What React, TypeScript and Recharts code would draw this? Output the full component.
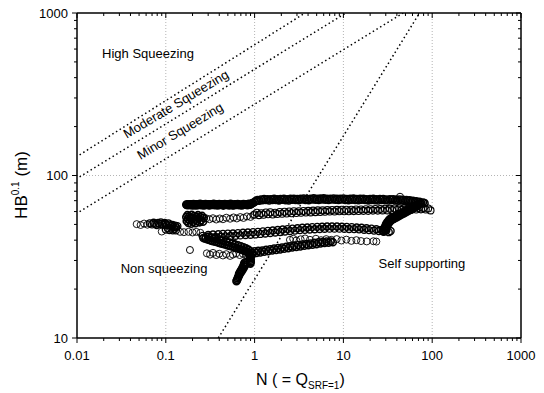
import React from 'react';
import { ScatterChart, Scatter, XAxis, YAxis, ReferenceLine, ReferenceDot } from 'recharts';

type Pt = [number, number];

const FONT = '"Liberation Sans", Arial, Helvetica, sans-serif';

const X_TICKS = [0.01, 0.02, 0.03, 0.04, 0.05, 0.06, 0.07, 0.08, 0.09, 0.1, 0.2, 0.3, 0.4, 0.5, 0.6, 0.7, 0.8, 0.9, 1, 2, 3, 4, 5, 6, 7, 8, 9, 10, 20, 30, 40, 50, 60, 70, 80, 90, 100, 200, 300, 400, 500, 600, 700, 800, 900, 1000];
const Y_TICKS = [10, 20, 30, 40, 50, 60, 70, 80, 90, 100, 200, 300, 400, 500, 600, 700, 800, 900, 1000];
const X_MAJOR = [0.01, 0.1, 1, 10, 100, 1000];
const Y_MAJOR = [10, 100, 1000];
const X_GRID = [0.1, 1, 10, 100];
const Y_GRID = [100];

// criteria lines (endpoints)
const CRITERIA_LINES: { name: string; from: Pt; to: Pt }[] = [
  { name: 'high', from: [0.0107, 134], to: [3.7, 1000] },
  { name: 'moderate', from: [0.0107, 98], to: [10.7, 1000] },
  { name: 'minor', from: [0.0107, 60], to: [47, 1000] },
  { name: 'self', from: [0.39, 10], to: [72, 1000] },
];

const ANNOTATIONS: { text: string; n: number; hb: number; angle: number }[] = [
  { text: 'High Squeezing', n: 0.063, hb: 567, angle: 0 },
  { text: 'Moderate Squeezing', n: 0.13, hb: 275, angle: -31 },
  { text: 'Minor Squeezing', n: 0.145, hb: 188, angle: -31 },
  { text: 'Non squeezing', n: 0.0955, hb: 26.6, angle: 0 },
  { text: 'Self supporting', n: 76.7, hb: 28.9, angle: 0 },
];

const BAND_A_LEFT: Pt[] = [
  [0.17, 66.2], [0.175, 65.6], [0.18, 66.6], [0.186, 65.8], [0.192, 66.4], [0.198, 65.5], [0.205, 66.8], [0.212, 66], [0.22, 65.4], [0.227, 66.5],
  [0.235, 65.8], [0.243, 66.9], [0.252, 65.6], [0.26, 66.3], [0.27, 65.5], [0.28, 66.7], [0.29, 65.9], [0.3, 66.4], [0.31, 65.4], [0.322, 66.6],
  [0.334, 65.8], [0.346, 66.9], [0.358, 65.6], [0.371, 66.2], [0.385, 65.5], [0.4, 66.8], [0.414, 65.9], [0.43, 66.5], [0.445, 65.3], [0.462, 66.7],
  [0.48, 65.8], [0.5, 66.4], [0.517, 65.5], [0.536, 66.9], [0.556, 66], [0.577, 65.4], [0.6, 66.6], [0.62, 65.8], [0.645, 66.8], [0.67, 65.6],
  [0.695, 66.3], [0.72, 65.5], [0.75, 66.7], [0.775, 66], [0.8, 66.5], [0.83, 65.6], [0.86, 66.9], [0.89, 66.1], [0.925, 67.2], [0.96, 67.8],
];

const BAND_A_LEFT_2: Pt[] = [
  [0.1725, 66], [0.1775, 66.4], [0.183, 65.9], [0.189, 66.3], [0.195, 66], [0.2015, 66.2], [0.2085, 65.7], [0.216, 66.4], [0.2235, 66], [0.231, 65.9],
  [0.239, 66.4], [0.2475, 66.1], [0.256, 66.5], [0.265, 65.9], [0.275, 66.2], [0.285, 66], [0.295, 66.6], [0.305, 65.8], [0.316, 66.1], [0.328, 66.3],
  [0.34, 66.2], [0.352, 66], [0.365, 66.4], [0.378, 66], [0.392, 66.1], [0.407, 66.3], [0.422, 66.2], [0.437, 65.8], [0.453, 66.2], [0.471, 66.2],
  [0.49, 66], [0.508, 66], [0.526, 66.2], [0.546, 66.4], [0.566, 65.7], [0.588, 66], [0.61, 66.2], [0.632, 66.3], [0.657, 66.2], [0.682, 66],
  [0.707, 65.9], [0.735, 66.1], [0.762, 66.3], [0.787, 66.2], [0.815, 66], [0.845, 66.3], [0.875, 66.5], [0.907, 66.6], [0.942, 67.5],
];

const BAND_A_RIGHT: Pt[] = [
  [1.0, 68.8], [1.04, 69.8], [1.08, 70.6], [1.13, 69.9], [1.18, 71.2], [1.23, 70.4], [1.28, 71.6], [1.34, 70.6], [1.4, 71.4], [1.46, 70.2],
  [1.52, 71.5], [1.59, 70.8], [1.66, 71.9], [1.73, 70.6], [1.8, 71.4], [1.88, 70.3], [1.96, 71.7], [2.05, 70.9], [2.14, 71.9], [2.23, 70.5],
  [2.33, 71.3], [2.43, 70.2], [2.54, 71.8], [2.65, 71], [2.77, 72], [2.89, 70.7], [3.02, 71.6], [3.15, 70.4], [3.29, 71.9], [3.43, 71.1],
  [3.58, 72.2], [3.74, 70.8], [3.9, 71.7], [4.07, 70.5], [4.25, 72], [4.44, 71.2], [4.63, 72.3], [4.84, 70.9], [5.05, 71.8], [5.27, 70.6],
  [5.5, 72.1], [5.74, 71.3], [6.0, 72.3], [6.26, 71], [6.53, 71.9], [6.82, 70.7], [7.12, 72], [7.43, 71.2], [7.76, 72.2], [8.1, 70.9],
  [8.45, 71.8], [8.82, 70.6], [9.21, 72], [9.62, 71.1], [10.04, 72.2], [10.48, 70.8], [10.94, 71.7], [11.42, 70.5], [11.92, 71.9], [12.45, 71],
  [13.0, 72.1], [13.57, 70.7], [14.16, 71.6], [14.78, 70.4], [15.43, 71.8], [16.1, 70.9], [16.8, 71.9], [17.55, 70.6], [18.3, 71.4], [19.1, 70.3],
  [19.95, 71.7], [20.8, 70.8], [21.7, 71.8], [22.7, 70.5], [23.7, 71.3], [24.7, 70.2], [25.8, 71.6], [26.9, 70.7], [28.1, 71.7], [29.3, 70.4],
  [30.6, 71.2], [32, 70.1], [33.4, 71.5], [34.8, 70.6], [36.3, 71.4], [37.9, 70.2], [39.6, 71], [41.3, 69.9], [43.1, 71.1], [45, 70.2],
  [47, 70.9], [49, 69.8], [51.2, 70.6], [53.4, 69.6], [55.7, 70.3], [58.2, 69.2], [60.7, 69.9], [63.4, 68.8], [66.2, 69.4], [69, 68.4],
  [72, 68.9], [75.2, 67.8], [78.5, 68.2], [82, 67.6],
];

const LONE_POINTS: Pt[] = [[43.4, 74], [0.187, 34.8]];

const BAND_B_BLOB: Pt[] = [
  [0.17, 55.5], [0.172, 52.5], [0.175, 57], [0.178, 54], [0.18, 51], [0.183, 56], [0.186, 53], [0.19, 55], [0.193, 50.5], [0.196, 57.2],
  [0.2, 54.2], [0.204, 51.8], [0.208, 56.2], [0.212, 53.4], [0.216, 50.8], [0.22, 55.8], [0.225, 52.6], [0.23, 57], [0.235, 54.6], [0.24, 51.5],
  [0.245, 55.6], [0.25, 53], [0.256, 56.4], [0.262, 52], [0.268, 54.8],
];

const BAND_B_SPARSE: Pt[] = [
  [0.285, 54.5], [0.31, 53.8], [0.34, 54.6], [0.37, 53.6], [0.405, 54.4], [0.44, 53.8], [0.48, 55], [0.53, 54.2], [0.58, 55.2], [0.63, 54.4],
  [0.69, 55.5], [0.75, 54.8], [0.82, 56], [0.9, 55.6], [0.97, 57],
];

const BAND_B_RIGHT: Pt[] = [
  [1.0, 57.5], [1.06, 59], [1.12, 57], [1.19, 58.6], [1.26, 57.4], [1.34, 59.2], [1.42, 57.8], [1.5, 59.4], [1.6, 57.6], [1.7, 59],
  [1.8, 58], [1.92, 59.6], [2.04, 58.2], [2.17, 59.8], [2.3, 58.4], [2.45, 60], [2.6, 58.6], [2.77, 60.2], [2.95, 58.8], [3.14, 60.3],
  [3.34, 59], [3.55, 60.5], [3.78, 59.2], [4.02, 60.6], [4.28, 59.3], [4.55, 60.8], [4.84, 59.5], [5.15, 61], [5.48, 59.6], [5.83, 61],
  [6.2, 59.8], [6.6, 61.2], [7.02, 60], [7.47, 61.3], [7.95, 60], [8.46, 61.4], [9, 60.2], [9.57, 61.5], [10.2, 60.2], [10.8, 61.6],
  [11.5, 60.3], [12.3, 61.6], [13.1, 60.4], [13.9, 61.8], [14.8, 60.5], [15.8, 61.8], [16.8, 60.6], [17.9, 62], [19, 60.6], [20.2, 62],
  [21.5, 60.8], [22.9, 62.2], [24.4, 60.8], [26, 62.2], [27.6, 61], [29.4, 62.4], [31.3, 61], [33.3, 62.5], [35.4, 61.2], [37.7, 62.6],
  [40.1, 61.3], [42.7, 62.7], [45.4, 61.4], [48.3, 62.8], [51.4, 61.5], [54.7, 63], [58.2, 61.6], [62, 63], [66, 61.8], [70.2, 63],
  [74.7, 61.9], [79.5, 63], [84.6, 61.8], [90, 62.6], [95.7, 61],
];

const BAND_C_DENSE: Pt[] = [
  [0.066, 50.8], [0.07, 50], [0.073, 51.2], [0.076, 50.4], [0.079, 49.6], [0.082, 51],
  [0.085, 50.2], [0.088, 51.4], [0.091, 50.5], [0.094, 49.8], [0.097, 51], [0.1, 50.3], [0.103, 49.5], [0.107, 50.8], [0.111, 49.8], [0.115, 48.8],
  [0.119, 49.6], [0.123, 48.2], [0.127, 49.2], [0.131, 48], [0.135, 48.8],
  [0.1, 46.5], [0.105, 47.5], [0.11, 46.2], [0.115, 47.2], [0.12, 46], [0.125, 47], [0.13, 46],
];

const BAND_C_SPARSE: Pt[] = [
  [0.047, 50.2], [0.052, 49.6], [0.057, 50.6], [0.062, 49.8],
  [0.09, 45.2], [0.145, 45], [0.16, 44.8], [0.18, 45], [0.2, 44.6], [0.22, 45], [0.245, 44.4],
];

const BAND_D: Pt[] = [
  [0.26, 42.5], [0.28, 41.2], [0.3, 43], [0.32, 41.6], [0.34, 43.3], [0.365, 41.8], [0.39, 43.5], [0.415, 42], [0.44, 43.7], [0.47, 42.2],
  [0.5, 43.9], [0.535, 42.4], [0.57, 44], [0.61, 42.6], [0.65, 44.2], [0.69, 42.8], [0.74, 44.4], [0.79, 43], [0.84, 44.6], [0.9, 43.2],
  [0.96, 44.8], [1.02, 43.4], [1.09, 45], [1.16, 43.7], [1.24, 45.3], [1.32, 44], [1.41, 45.6], [1.5, 44.3], [1.6, 45.9], [1.71, 44.6],
  [1.82, 46.2], [1.94, 44.9], [2.07, 46.5], [2.2, 45.2], [2.35, 46.8], [2.5, 45.5], [2.67, 47.1], [2.85, 45.8], [3.04, 47.4], [3.24, 46.1],
  [3.45, 47.7], [3.68, 46.3], [3.92, 47.9], [4.18, 46.5], [4.46, 48.1], [4.75, 46.7], [5.07, 48.3], [5.4, 46.9], [5.76, 48.4], [6.14, 47],
  [6.55, 48.5], [6.98, 47.1], [7.44, 48.5], [7.93, 47.1], [8.46, 48.5], [9.02, 47.1], [9.61, 48.4], [10.25, 47], [10.9, 48.3], [11.6, 46.9],
  [12.4, 48.1], [13.2, 46.8], [14.1, 47.9], [15, 46.6], [16, 47.7], [17.1, 46.4], [18.2, 47.4], [19.4, 46.1], [20.7, 47.1], [22.1, 45.8],
  [23.5, 46.7], [25.1, 45.5], [26.7, 46.3], [28.5, 45.1], [30.4, 45.8], [32.4, 44.8], [34, 45.5],
];

const BAND_D_DIAGONAL: Pt[] = [
  [0.265, 41.2], [0.28, 40.8], [0.295, 40.4], [0.31, 40.1], [0.325, 39.7], [0.34, 39.4], [0.36, 39.1], [0.38, 38.8], [0.4, 38.5], [0.42, 38.2],
  [0.44, 37.9], [0.465, 37.6], [0.49, 37.3], [0.515, 37], [0.54, 36.7], [0.57, 36.4], [0.6, 36.1], [0.63, 35.8], [0.66, 35.5], [0.69, 35.2],
  [0.72, 34.9], [0.75, 34.6], [0.78, 34.3], [0.81, 34], [0.84, 33.6], [0.86, 33.2], [0.88, 32.7], [0.89, 32.1], [0.895, 31.5], [0.9, 30.9],
  [0.9, 30.3], [0.905, 29.7], [0.9, 29.2], [0.895, 28.7],
  [0.3, 42], [0.33, 41.5], [0.36, 41], [0.4, 40.4], [0.44, 39.8], [0.48, 39.2], [0.52, 38.7], [0.56, 38.2], [0.6, 37.7], [0.65, 37.2],
  [0.7, 36.7], [0.75, 36.2], [0.8, 35.6], [0.85, 35], [0.9, 34.2], [0.93, 33.4], [0.94, 32.5],
];

const BAND_E_SPARSE: Pt[] = [
  [0.29, 33.2], [0.315, 32.6], [0.34, 33.4], [0.37, 32.4], [0.4, 33], [0.44, 32.2], [0.48, 32.8], [0.53, 32], [0.57, 32.6], [0.62, 33.2],
  [0.68, 32.4], [0.74, 33], [0.8, 32.6], [0.87, 33.4],
];

const BAND_E_DENSE: Pt[] = [
  [0.95, 33.2], [1.0, 34.2], [1.05, 33.4], [1.1, 34.4], [1.16, 33.6], [1.22, 34.6], [1.28, 33.9], [1.35, 34.9], [1.42, 34.2], [1.5, 35.2],
  [1.58, 34.5], [1.66, 35.5], [1.75, 34.8], [1.84, 35.8], [1.94, 35.1], [2.04, 36.1], [2.15, 35.4], [2.27, 36.4], [2.39, 35.7], [2.52, 36.7],
  [2.65, 36], [2.8, 37], [2.95, 36.3], [3.1, 37.3], [3.27, 36.6], [3.45, 37.6], [3.63, 36.9], [3.83, 37.9], [4.03, 37.2], [4.25, 38.2],
  [4.48, 37.5], [4.72, 38.5], [4.97, 37.8], [5.24, 38.8], [5.52, 38.1], [5.82, 39], [6.13, 38.4], [6.46, 39.2], [6.8, 38.6], [7.2, 39.3],
  [7.6, 38.9],
];

const BAND_F: Pt[] = [
  [2.5, 40.2], [2.72, 40.8], [2.95, 39.8], [3.3, 40.5], [3.7, 41], [4.2, 40.2], [4.9, 40.8], [5.6, 40], [6.4, 40.6], [7.3, 40.2],
  [8.4, 40.6], [9.5, 39.8], [10.8, 40.3], [12.3, 39.6], [14, 40], [15.8, 39.5], [18.3, 39.3], [21.8, 39.4], [23.5, 39.2],
];

const BAND_G: Pt[] = [
  [0.79, 29.2], [0.77, 29], [0.78, 28.2], [0.76, 28.4], [0.765, 27.5], [0.75, 27.7], [0.745, 26.8], [0.73, 27], [0.725, 26.1], [0.71, 26.3],
  [0.705, 25.5], [0.69, 25.6], [0.685, 24.9], [0.67, 24.9], [0.665, 24.2], [0.655, 23.8], [0.645, 23.3], [0.635, 22.8], [0.625, 22.4],
];

const BAND_H: Pt[] = [
  [28, 45.5], [28.8, 47], [29.5, 48.5], [30.2, 50], [31, 51.3], [32, 52.5], [33, 53.5], [34.2, 54.3], [35.5, 55], [37, 55.7],
  [38.6, 56.3], [40.3, 57], [42, 57.6], [44, 58.3], [46, 59], [48, 59.7], [50, 60.4], [52.3, 61.1], [54.6, 61.9], [57, 62.7],
  [59.5, 63.5], [62, 64.3], [64.6, 65], [67.3, 65.8], [70, 66.5], [73, 67.2],
  [29.5, 45.8], [30.3, 47.3], [31, 48.8], [31.8, 50.2], [32.8, 51.5], [34, 52.6], [35.3, 53.4], [36.8, 54.1], [38.4, 54.8], [40, 55.5],
  [41.8, 56.2], [43.7, 57], [45.7, 57.8], [47.8, 58.5], [50, 59.3], [52.4, 60.1], [54.8, 60.9], [57.4, 61.7], [60, 62.5], [62.8, 63.3],
  [65.6, 64.2], [68.5, 65],
];

// each series with its density class (thin outline for sparse, heavier for overlapping runs)
const SERIES: { data: Pt[]; weight: number }[] = [
  { data: BAND_A_LEFT, weight: 1.6 },
  { data: BAND_A_LEFT_2, weight: 1.6 },
  { data: BAND_A_RIGHT, weight: 1.6 },
  { data: LONE_POINTS, weight: 1 },
  { data: BAND_B_BLOB, weight: 1.6 },
  { data: BAND_B_SPARSE, weight: 0.9 },
  { data: BAND_B_RIGHT, weight: 1.1 },
  { data: BAND_C_DENSE, weight: 1.3 },
  { data: BAND_C_SPARSE, weight: 0.9 },
  { data: BAND_D, weight: 1.4 },
  { data: BAND_D_DIAGONAL, weight: 1.6 },
  { data: BAND_E_SPARSE, weight: 0.9 },
  { data: BAND_E_DENSE, weight: 1.5 },
  { data: BAND_F, weight: 0.9 },
  { data: BAND_G, weight: 1.7 },
  { data: BAND_H, weight: 1.7 },
];

const toData = (arr: Pt[]) => arr.map(([n, hb]) => ({ n, hb }));

const isMajor = (v: number) => Math.abs(Math.log10(v) - Math.round(Math.log10(v))) < 1e-6;

const BottomTick = (p: any) => {
  const v = p.payload.value;
  const major = isMajor(v);
  return (
    <g>
      <line x1={p.x} x2={p.x} y1={p.y} y2={p.y + (major ? 5 : 3)} stroke="#000" strokeWidth={1} />
      {major && X_MAJOR.includes(v) && (
        <text x={p.x} y={p.y + 21.5} textAnchor="middle" fontSize={13} fontFamily={FONT} fill="#000">{String(v)}</text>
      )}
    </g>
  );
};
const TopTick = (p: any) => {
  const major = isMajor(p.payload.value);
  return <line x1={p.x} x2={p.x} y1={p.y} y2={p.y + (major ? 5 : 3)} stroke="#000" strokeWidth={1} />;
};
const LeftTick = (p: any) => {
  const v = p.payload.value;
  const major = isMajor(v);
  return (
    <g>
      <line x1={p.x} x2={p.x - (major ? 5 : 3)} y1={p.y} y2={p.y} stroke="#000" strokeWidth={1} />
      {major && Y_MAJOR.includes(v) && (
        <text x={p.x - 9} y={p.y + 4.5} textAnchor="end" fontSize={13} fontFamily={FONT} fill="#000">{String(v)}</text>
      )}
    </g>
  );
};
const RightTick = (p: any) => {
  const major = isMajor(p.payload.value);
  return <line x1={p.x} x2={p.x - (major ? 5 : 3)} y1={p.y} y2={p.y} stroke="#000" strokeWidth={1} />;
};

const makeCircle = (w: number) => (p: any) => (
  <circle cx={p.cx} cy={p.cy} r={3.5} fill="none" stroke="#000" strokeWidth={w} />
);

const W = 528;
const H = 377;

export default function App() {
  const axisLine = { stroke: '#000', strokeWidth: 1.5 };
  return (
    <div style={{ position: 'relative', width: W, height: 385, fontFamily: FONT }}>
      <style>{'.recharts-surface{overflow:visible}'}</style>
      <ScatterChart width={W} height={H} margin={{ top: 4, right: 14, bottom: 0, left: 0 }}>
        <XAxis xAxisId="b" dataKey="n" type="number" scale="log" domain={[0.01, 1000]} allowDataOverflow
          ticks={X_TICKS} interval={0} tick={<BottomTick />} tickLine={false} tickSize={0} tickMargin={0}
          height={47} axisLine={axisLine} />
        <XAxis xAxisId="t" orientation="top" dataKey="n" type="number" scale="log" domain={[0.01, 1000]} allowDataOverflow
          ticks={X_TICKS} interval={0} tick={<TopTick />} tickLine={false} tickSize={0} tickMargin={0}
          height={1} axisLine={axisLine} />
        <YAxis yAxisId="l" dataKey="hb" type="number" scale="log" domain={[10, 1000]} allowDataOverflow
          ticks={Y_TICKS} interval={0} tick={<LeftTick />} tickLine={false} tickSize={0} tickMargin={0}
          width={69} axisLine={axisLine} />
        <YAxis yAxisId="r" orientation="right" dataKey="hb" type="number" scale="log" domain={[10, 1000]} allowDataOverflow
          ticks={Y_TICKS} interval={0} tick={<RightTick />} tickLine={false} tickSize={0} tickMargin={0}
          width={1} axisLine={axisLine} />

        {X_GRID.map((v) => (
          <ReferenceLine key={'gx' + v} xAxisId="b" yAxisId="l" x={v} stroke="#b4b4b4" strokeWidth={1} strokeDasharray="1 2" />
        ))}
        {Y_GRID.map((v) => (
          <ReferenceLine key={'gy' + v} xAxisId="b" yAxisId="l" y={v} stroke="#b4b4b4" strokeWidth={1} strokeDasharray="1 2" />
        ))}
        {CRITERIA_LINES.map((l) => (
          <ReferenceLine key={l.name} xAxisId="b" yAxisId="l" ifOverflow="hidden"
            segment={[{ x: l.from[0], y: l.from[1] }, { x: l.to[0], y: l.to[1] }]}
            stroke="#000" strokeWidth={1.5} strokeDasharray="1.5 2.8" />
        ))}

        {SERIES.map((s, i) => (
          <Scatter key={'s' + i} xAxisId="b" yAxisId="l" data={toData(s.data)} dataKey="hb" shape={makeCircle(s.weight)} isAnimationActive={false} />
        ))}

        {ANNOTATIONS.map((a) => (
          <ReferenceDot key={a.text} xAxisId="b" yAxisId="l" x={a.n} y={a.hb} r={0} ifOverflow="visible"
            shape={(p: any) => (
              <text x={p.cx} y={p.cy} textAnchor="middle" dominantBaseline="central" fontSize={13} fontFamily={FONT} fill="#000"
                transform={a.angle ? `rotate(${a.angle} ${p.cx} ${p.cy})` : undefined}>{a.text}</text>
            )} />
        ))}
      </ScatterChart>
      <svg width={W} height={385} style={{ position: 'absolute', left: 0, top: 0, pointerEvents: 'none', overflow: 'visible' }}>
        <text x={248} y={377} fontSize={16} fontFamily={FONT} fill="#000">
          N ( = Q<tspan fontSize={10} dy={4}>SRF=1</tspan><tspan dy={-4}>)</tspan>
        </text>
        <text transform="translate(19, 177) rotate(-90)" textAnchor="middle" fontSize={17} fontFamily={FONT} fill="#000">
          HB<tspan fontSize={10} dy={-8}>0.1</tspan><tspan dy={8}> (m)</tspan>
        </text>
      </svg>
    </div>
  );
}
